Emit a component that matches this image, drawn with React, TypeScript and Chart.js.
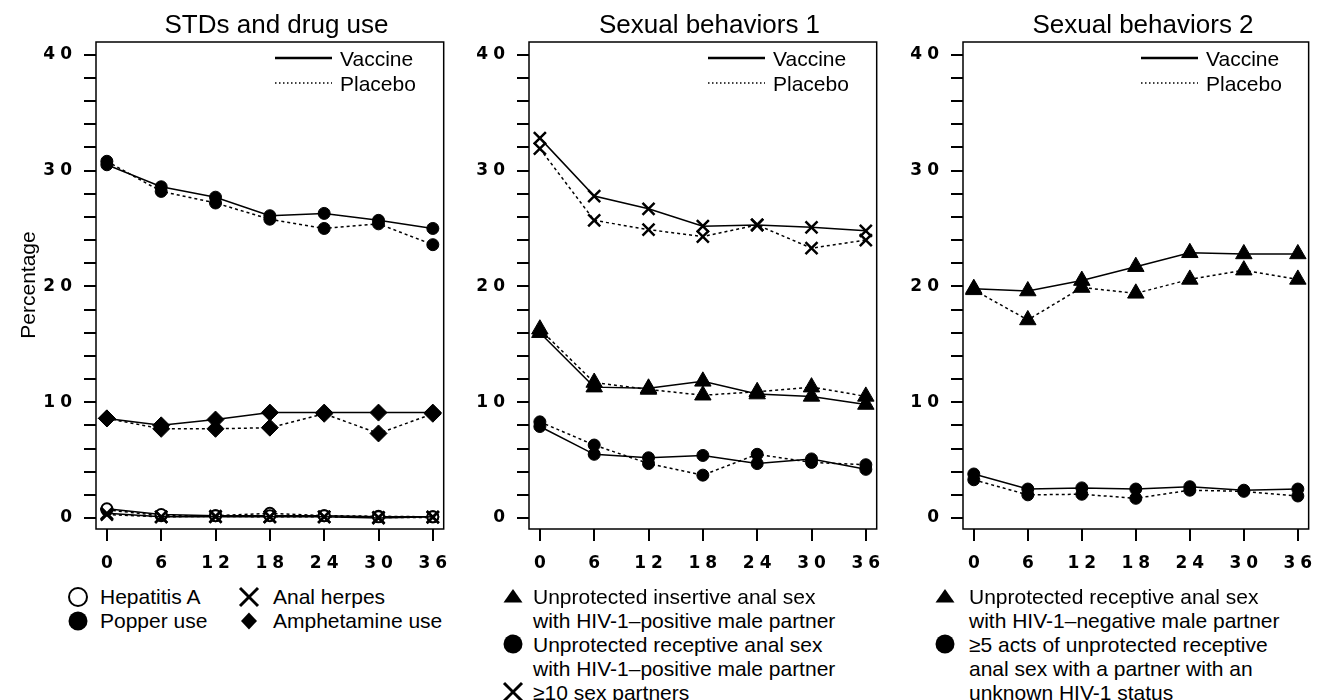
import React, { useEffect, useRef } from "react";
import { Chart, registerables } from "chart.js";
Chart.register(...registerables);

// ---------- data ----------
const months = [0, 6, 12, 18, 24, 30, 36];
const xTickValues = [0, 6, 12, 18, 24, 30, 36];
const yTickValues = [0, 2, 4, 6, 8, 10, 12, 14, 16, 18, 20, 22, 24, 26, 28, 30, 32, 34, 36, 38, 40];
const yLabelValues = [0, 10, 20, 30, 40];

const panelTitles = ["STDs and drug use", "Sexual behaviors 1", "Sexual behaviors 2"];
const armLabels = ["Vaccine", "Placebo"];

// Panel 1: STDs and drug use
const popperVaccine = [30.5, 28.6, 27.7, 26.1, 26.3, 25.7, 25.0];
const popperPlacebo = [30.8, 28.2, 27.2, 25.8, 25.0, 25.4, 23.6];
const amphetamineVaccine = [8.6, 8.0, 8.5, 9.1, 9.1, 9.1, 9.1];
const amphetaminePlacebo = [8.6, 7.7, 7.7, 7.8, 9.0, 7.3, 9.0];
const hepatitisAVaccine = [0.8, 0.3, 0.2, 0.2, 0.2, 0.1, 0.1];
const hepatitisAPlacebo = [0.7, 0.2, 0.2, 0.4, 0.2, 0.15, 0.1];
const analHerpesVaccine = [0.4, 0.1, 0.1, 0.1, 0.1, 0.0, 0.1];
const analHerpesPlacebo = [0.3, 0.1, 0.15, 0.1, 0.1, 0.05, 0.05];

// Panel 2: Sexual behaviors 1
const partnersVaccine = [32.8, 27.8, 26.7, 25.2, 25.3, 25.1, 24.8];
const partnersPlacebo = [31.9, 25.7, 24.9, 24.3, 25.3, 23.3, 24.0];
const insertivePosVaccine = [16.0, 11.3, 11.2, 11.8, 10.7, 10.5, 9.8];
const insertivePosPlacebo = [16.3, 11.7, 11.1, 10.6, 10.9, 11.3, 10.5];
const receptivePosVaccine = [7.9, 5.5, 5.2, 5.4, 4.7, 5.1, 4.2];
const receptivePosPlacebo = [8.3, 6.3, 4.7, 3.7, 5.5, 4.8, 4.6];

// Panel 3: Sexual behaviors 2
const receptiveNegVaccine = [19.8, 19.6, 20.5, 21.7, 22.9, 22.8, 22.8];
const receptiveNegPlacebo = [19.7, 17.1, 19.9, 19.4, 20.6, 21.4, 20.6];
const unknownStatusVaccine = [3.8, 2.5, 2.6, 2.5, 2.7, 2.4, 2.5];
const unknownStatusPlacebo = [3.3, 2.0, 2.05, 1.7, 2.4, 2.3, 1.9];

// legend texts
const legend1 = [
  ["Hepatitis A", "Popper use"],
  ["Anal herpes", "Amphetamine use"],
];
const legend2 = [
  "Unprotected insertive anal sex",
  "with HIV-1\u2013positive male partner",
  "Unprotected receptive anal sex",
  "with HIV-1\u2013positive male partner",
  "\u226510 sex partners",
];
const legend3 = [
  "Unprotected receptive anal sex",
  "with HIV-1\u2013negative male partner",
  "\u22655 acts of unprotected receptive",
  "anal sex with a partner with an",
  "unknown HIV-1 status",
];

// ---------- styling / layout ----------
const FONT = "'Liberation Sans', Arial, Helvetica, sans-serif";
const BOX_TOP = 42;
const BOX_BOTTOM = 529;
const CANVAS_H = 580;
const Y_AXIS_W = 96;

type Marker = "circle" | "openCircle" | "triangle" | "crossRot" | "rectRot";

const markerStyle: Record<Marker, any> = {
  circle: { pointStyle: "circle", pointRadius: 6, pointBackgroundColor: "#000", pointBorderWidth: 1 },
  openCircle: { pointStyle: "circle", pointRadius: 5.5, pointBackgroundColor: "#fff", pointBorderWidth: 2 },
  triangle: { pointStyle: "triangle", pointRadius: 9.5, pointBackgroundColor: "#000", pointBorderWidth: 1 },
  crossRot: { pointStyle: "crossRot", pointRadius: 8.5, pointBackgroundColor: "#000", pointBorderWidth: 2.5 },
  rectRot: { pointStyle: "rectRot", pointRadius: 8.5, pointBackgroundColor: "#000", pointBorderWidth: 1 },
};

function series(values: number[], marker: Marker, placebo: boolean) {
  return {
    data: months.map((m, i) => ({ x: m, y: values[i] })),
    borderColor: "#000",
    borderWidth: 1.5,
    borderDash: placebo ? [3, 3] : [],
    pointBorderColor: "#000",
    tension: 0,
    fill: false,
    ...markerStyle[marker],
  };
}

const panelDatasets = [
  [
    series(popperVaccine, "circle", false),
    series(popperPlacebo, "circle", true),
    series(amphetamineVaccine, "rectRot", false),
    series(amphetaminePlacebo, "rectRot", true),
    series(analHerpesVaccine, "crossRot", false),
    series(analHerpesPlacebo, "crossRot", true),
    series(hepatitisAVaccine, "openCircle", false),
    series(hepatitisAPlacebo, "openCircle", true),
  ],
  [
    series(partnersVaccine, "crossRot", false),
    series(partnersPlacebo, "crossRot", true),
    series(insertivePosVaccine, "triangle", false),
    series(insertivePosPlacebo, "triangle", true),
    series(receptivePosVaccine, "circle", false),
    series(receptivePosPlacebo, "circle", true),
  ],
  [
    series(receptiveNegVaccine, "triangle", false),
    series(receptiveNegPlacebo, "triangle", true),
    series(unknownStatusVaccine, "circle", false),
    series(unknownStatusPlacebo, "circle", true),
  ],
];

const boxes = [
  { left: 96, right: 451 },
  { left: 529, right: 884 },
  { left: 963, right: 1317 },
];

const framePlugin = {
  id: "frame",
  beforeDraw(chart: any) {
    chart.ctx.letterSpacing = "5px";
  },
  afterDraw(chart: any) {
    const { ctx, chartArea } = chart;
    ctx.save();
    ctx.strokeStyle = "#000";
    ctx.lineWidth = 1.5;
    ctx.setLineDash([]);
    ctx.strokeRect(chartArea.left, chartArea.top, chartArea.right - chartArea.left, chartArea.bottom - chartArea.top);
    ctx.restore();
  },
};

function Panel({ index }: { index: number }) {
  const ref = useRef<HTMLCanvasElement | null>(null);
  const box = boxes[index];
  const canvasLeft = box.left - Y_AXIS_W;
  const canvasW = Math.min(1322, box.right + 6) - canvasLeft;
  useEffect(() => {
    if (!ref.current) return;
    const tickFont = { family: "'DejaVu Sans', sans-serif", size: 17, weight: "bold" as const };
    const chart = new Chart(ref.current, {
      type: "line",
      data: { datasets: panelDatasets[index] as any },
      plugins: [framePlugin],
      options: {
        animation: false,
        responsive: false,
        maintainAspectRatio: false,
        layout: { padding: { left: 0, top: BOX_TOP, right: canvasW - (box.right - canvasLeft), bottom: 0 } },
        plugins: { legend: { display: false }, tooltip: { enabled: false }, title: { display: false } },
        scales: {
          x: {
            type: "linear",
            min: -1.2,
            max: 37.2,
            afterBuildTicks: (s: any) => {
              s.ticks = xTickValues.map((v) => ({ value: v }));
            },
            afterFit: (s: any) => {
              s.height = CANVAS_H - BOX_BOTTOM;
            },
            grid: { drawOnChartArea: false, drawTicks: true, tickLength: 12, color: "#000", lineWidth: 2 },
            border: { display: false },
            ticks: {
              autoSkip: false,
              maxRotation: 0,
              color: "#000",
              font: tickFont,
              padding: 12,
              labelOffset: 2.5,
              callback: (v: any) => String(v),
            },
          },
          y: {
            type: "linear",
            min: -0.95,
            max: 41.1,
            afterBuildTicks: (s: any) => {
              s.ticks = yTickValues.map((v) => ({ value: v }));
            },
            afterFit: (s: any) => {
              s.width = Y_AXIS_W;
            },
            grid: { drawOnChartArea: false, drawTicks: true, tickLength: 12, color: "#000", lineWidth: 2 },
            border: { display: false },
            ticks: {
              autoSkip: false,
              color: "#000",
              font: tickFont,
              padding: 7,
              callback: (v: any) => (yLabelValues.includes(Number(v)) ? String(v) : ""),
            },
          },
        },
      },
    });
    return () => chart.destroy();
  }, [index]);
  return (
    <canvas
      ref={ref}
      width={canvasW}
      height={CANVAS_H}
      style={{ position: "absolute", left: canvasLeft, top: 0, width: canvasW, height: CANVAS_H }}
    />
  );
}

function Symbol({ kind, cx, cy }: { kind: Marker; cx: number; cy: number }) {
  const s = 24;
  let el: any = null;
  if (kind === "circle") el = <circle cx={12} cy={12} r={9.5} fill="#000" />;
  if (kind === "openCircle") el = <circle cx={12} cy={12} r={9} fill="#fff" stroke="#000" strokeWidth={2} />;
  if (kind === "triangle") el = <polygon points="2.5,18.5 21.5,18.5 12,5" fill="#000" />;
  if (kind === "crossRot")
    el = (
      <g stroke="#000" strokeWidth={3}>
        <line x1={3} y1={3} x2={21} y2={21} />
        <line x1={21} y1={3} x2={3} y2={21} />
      </g>
    );
  if (kind === "rectRot") el = <polygon points="12,3.5 20,12 12,20.5 4,12" fill="#000" />;
  return (
    <svg width={s} height={s} style={{ position: "absolute", left: cx - 12, top: cy - 12 }}>
      {el}
    </svg>
  );
}

function Text({ x, cy, children, size = 21 }: { x: number; cy: number; children: any; size?: number }) {
  return (
    <div
      style={{
        position: "absolute",
        left: x,
        top: cy - 11.5,
        fontFamily: FONT,
        fontSize: size,
        lineHeight: "24px",
        whiteSpace: "nowrap",
        color: "#000",
      }}
    >
      {children}
    </div>
  );
}

function ArmLegend({ right }: { right: number }) {
  return (
    <>
      <svg width={60} height={40} style={{ position: "absolute", left: right - 177, top: 48 }}>
        <line x1={1} y1={10} x2={58} y2={10} stroke="#000" strokeWidth={2.5} />
        <line x1={1} y1={35} x2={58} y2={35} stroke="#000" strokeWidth={1.3} strokeDasharray="1.5,2.5" />
      </svg>
      <Text x={right - 111} cy={58}>{armLabels[0]}</Text>
      <Text x={right - 111} cy={83}>{armLabels[1]}</Text>
    </>
  );
}

export default function App() {
  const rows = [596, 620, 644, 668, 692];
  return (
    <div style={{ position: "absolute", left: 0, top: 0, width: 1322, height: 700, background: "#fff", overflow: "hidden" }}>
      {[0, 1, 2].map((i) => (
        <Panel key={i} index={i} />
      ))}
      {boxes.map((b, i) => (
        <div
          key={"t" + i}
          style={{
            position: "absolute",
            left: (b.left + b.right) / 2 + 3 - 200,
            width: 400,
            top: 9,
            textAlign: "center",
            fontFamily: FONT,
            fontSize: 26,
            lineHeight: "30px",
            whiteSpace: "nowrap",
          }}
        >
          {panelTitles[i]}
        </div>
      ))}
      {boxes.map((b, i) => (
        <ArmLegend key={"a" + i} right={b.right} />
      ))}
      <div
        style={{
          position: "absolute",
          left: 28 - 60,
          top: 285 - 12,
          width: 120,
          height: 24,
          lineHeight: "24px",
          textAlign: "center",
          fontFamily: FONT,
          fontSize: 21,
          transform: "rotate(-90deg)",
        }}
      >
        Percentage
      </div>

      {/* panel 1 legend */}
      <Symbol kind="openCircle" cx={77.5} cy={596.5} />
      <Text x={100} cy={596.5}>{legend1[0][0]}</Text>
      <Symbol kind="circle" cx={77.5} cy={620.5} />
      <Text x={100} cy={620.5}>{legend1[0][1]}</Text>
      <Symbol kind="crossRot" cx={248.5} cy={596.5} />
      <Text x={273} cy={596.5}>{legend1[1][0]}</Text>
      <Symbol kind="rectRot" cx={248.5} cy={620.5} />
      <Text x={273} cy={620.5}>{legend1[1][1]}</Text>

      {/* panel 2 legend */}
      <Symbol kind="triangle" cx={512.5} cy={rows[0]} />
      <Symbol kind="circle" cx={512.5} cy={rows[2]} />
      <Symbol kind="crossRot" cx={512.5} cy={rows[4]} />
      {legend2.map((t, i) => (
        <Text key={"l2" + i} x={533} cy={rows[i]}>
          {t}
        </Text>
      ))}

      {/* panel 3 legend */}
      <Symbol kind="triangle" cx={945} cy={rows[0]} />
      <Symbol kind="circle" cx={945} cy={rows[2]} />
      {legend3.map((t, i) => (
        <Text key={"l3" + i} x={969} cy={rows[i]}>
          {t}
        </Text>
      ))}
    </div>
  );
}
